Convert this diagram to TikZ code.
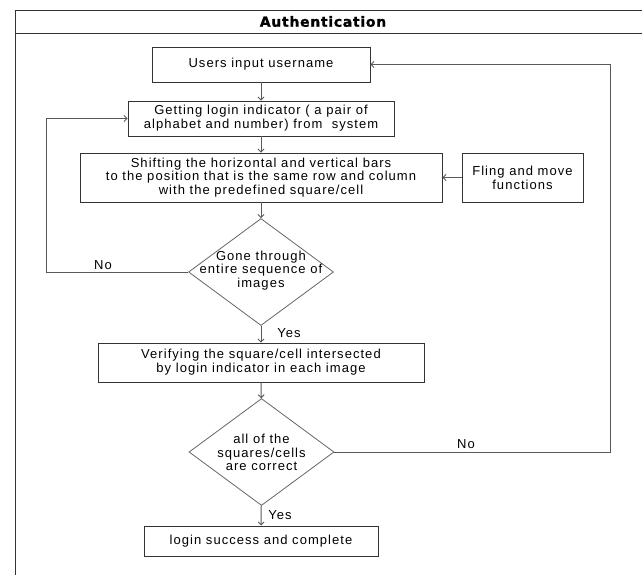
\documentclass[tikz,border=0pt]{standalone}
\usepackage{fontspec}
\setmainfont{Liberation Sans}[LetterSpace=8]
\newfontfamily\titlefont{DejaVu Sans Bold}[LetterSpace=5,FakeBold=1.2]
\usetikzlibrary{shapes.geometric,arrows.meta}

\begin{document}
\begin{tikzpicture}[x=1pt,y=-1pt,
    box/.style={draw=black!80,line width=0.9pt,align=center,inner sep=0pt,
        font=\fontsize{13}{13.8}\selectfont},
    decision/.style={draw=black!60,line width=0.8pt,diamond,inner sep=0pt,
        minimum width=145pt,minimum height=107pt},
    txt/.style={align=center,inner sep=0pt,font=\fontsize{13}{13.8}\selectfont},
    arr/.style={draw=black!65,line width=0.9pt,-{Straight Barb[length=3pt,width=6pt]}}]
    \useasboundingbox (0,0) rectangle (642,574);
    \clip (0,0) rectangle (642,574);
    \fill[white] (0,0) rectangle (642,574);
    % frame
    \draw[black!80,line width=1pt] (15,10) rectangle (680,600);
    \draw[black!80,line width=1pt] (15,33) -- (680,33);
    \node[inner sep=0pt] (title) at (323,21.5) {\titlefont\fontsize{14}{15}\selectfont Authentication};
    % steps
    \node[box,minimum width=218pt,minimum height=35pt] (user) at (261,64.5) {Users input username};
    \node[box,minimum width=266pt,minimum height=35pt] (login) at (261,118.5) {Getting login indicator ( a pair of\\alphabet and number) from \ system};
    \node[box,minimum width=362pt,minimum height=49pt] (shift) at (261,177.5) {Shifting the horizontal and vertical bars\\to the position that is the same row and column\\with the predefined square/cell};
    \node[box,minimum width=121pt,minimum height=49pt] (fling) at (522.5,177.5) {Fling and move\\functions};
    \node[decision] (gone) at (261,272) {};
    \node[txt] (gonetxt) at (261,270.5) {Gone through\\entire sequence of\\images};
    \node[box,minimum width=326pt,minimum height=39pt] (verify) at (261,362.5) {Verifying the square/cell intersected\\by login indicator in each image};
    \node[decision] (allok) at (261.5,452) {};
    \node[txt] (allobtxt) at (261.5,452.5) {all of the\\squares/cells\\are correct};
    \node[box,minimum width=234pt,minimum height=30pt] (done) at (261,541) {login success and complete};
    % loops
    \coordinate (backL) at (46,272);
    \coordinate (backR) at (610,452);
    \draw[arr] (user) -- (login);
    \draw[arr] (login) -- (shift);
    \draw[arr] (shift) -- (gone);
    \draw[arr] (gone) -- (verify);
    \draw[arr] (verify) -- (allok);
    \draw[arr] (allok) -- (done);
    \draw[arr] (fling) -- (shift);
    \draw[arr] (gone.west) -- (backL) |- (login.west);
    \draw[arr] (allok.east) -- (backR) |- (user.east);
    % labels
    \node[txt] (nogone) at (103,265) {No};
    \node[txt] (yesgone) at (289,333) {Yes};
    \node[txt] (noallok) at (466,444) {No};
    \node[txt] (yesallok) at (280,515) {Yes};
\end{tikzpicture}
\end{document}
